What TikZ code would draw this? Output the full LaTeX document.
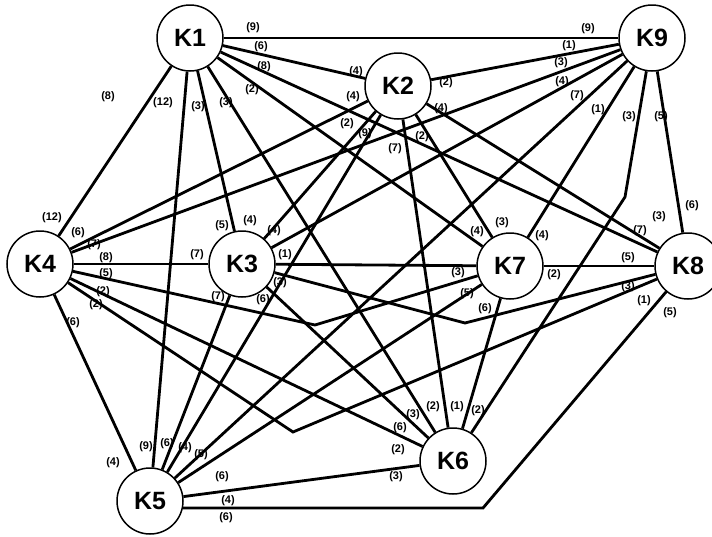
\documentclass[tikz,border=0pt]{standalone}
\usepackage{fontspec}
\setmainfont{Liberation Sans}
\begin{document}
\begin{tikzpicture}[x=1pt,y=-1pt,
  vert/.style={circle,draw,line width=1.5pt,minimum size=66pt,inner sep=0pt,fill=white,font=\bfseries\fontsize{25}{25}\selectfont},
  wt/.style={font=\bfseries\fontsize{11}{12}\selectfont,inner sep=0pt},
  edge/.style={line width=2.8pt,line join=miter}]
\useasboundingbox (0,0) rectangle (712,536);
% vertices
\node[vert] (K1) at (190,38) {K1};
\node[vert] (K9) at (652,38) {K9};
\node[vert] (K2) at (398,86) {K2};
\node[vert] (K4) at (40,264) {K4};
\node[vert] (K3) at (242,264) {K3};
\node[vert] (K7) at (510,266) {K7};
\node[vert] (K8) at (688,266) {K8};
\node[vert] (K5) at (150,501) {K5};
\node[vert] (K6) at (453,461) {K6};
% bend points
\coordinate (b1) at (625,197);
\coordinate (b2) at (315,325);
\coordinate (b3) at (293,432);
\coordinate (b4) at (465,323);
\coordinate (b5) at (483,508);
% edges
\draw[edge] (K1)--(K9);
\draw[edge] (K1)--(K2);
\draw[edge] (K1)--(K8);
\draw[edge] (K1)--(K7);
\draw[edge] (K1)--(K6);
\draw[edge] (K1)--(K3);
\draw[edge] (K1)--(K5);
\draw[edge] (K1)--(K4);
\draw[edge] (K2)--(K9);
\draw[edge] (K2)--(K4);
\draw[edge] (K2)--(K3);
\draw[edge] (K2)--(K5);
\draw[edge] (K2)--(K6);
\draw[edge] (K2)--(K7);
\draw[edge] (K2)--(K8);
\draw[edge] (K9)--(K4);
\draw[edge] (K9)--(K3);
\draw[edge] (K9)--(K5);
\draw[edge] (K9)--(K7);
\draw[edge] (K9)--(b1)--(K6);
\draw[edge] (K9)--(K8);
\draw[edge] (K4)--(K3);
\draw[edge] (K4)--(b2)--(K7);
\draw[edge] (K4)--(K6);
\draw[edge] (K4)--(b3)--(K8);
\draw[edge] (K4)--(K5);
\draw[edge] (K3)--(K7);
\draw[edge] (K3)--(b4)--(K8);
\draw[edge] (K3)--(K6);
\draw[edge] (K3)--(K5);
\draw[edge] (K7)--(K8);
\draw[edge] (K7)--(K5);
\draw[edge] (K7)--(K6);
\draw[edge] (K5)--(K6);
\draw[edge] (K5.-12)--(b5)--(K8);
% labels near K1
\node[wt] (a1) at (253,28) {(9)};
\node[wt] (a2) at (261,47) {(6)};
\node[wt] (a3) at (264,67) {(8)};
\node[wt] (a4) at (252,90) {(2)};
\node[wt] (a5) at (163,103) {(12)};
\node[wt] (a6) at (198,107) {(3)};
\node[wt] (a7) at (226,103) {(3)};
\node[wt] (a8) at (108,97) {(8)};
% labels near K2
\node[wt] (c1) at (356,72) {(4)};
\node[wt] (c2) at (353,97) {(4)};
\node[wt] (c3) at (347,124) {(2)};
\node[wt] (c4) at (365,134) {(9)};
\node[wt] (c5) at (395,149) {(7)};
\node[wt] (c6) at (422,137) {(2)};
\node[wt] (c7) at (446,83) {(2)};
\node[wt] (c8) at (441,109) {(4)};
% labels near K9
\node[wt] (d1) at (588,29) {(9)};
\node[wt] (d2) at (569,46) {(1)};
\node[wt] (d3) at (561,63) {(3)};
\node[wt] (d4) at (562,82) {(4)};
\node[wt] (d5) at (577,96) {(7)};
\node[wt] (d6) at (598,110) {(1)};
\node[wt] (d7) at (629,117) {(3)};
\node[wt] (d8) at (661,117) {(5)};
% labels near K4
\node[wt] (e1) at (52,218) {(12)};
\node[wt] (e2) at (78,233) {(6)};
\node[wt] (e3) at (94,245) {(7)};
\node[wt] (e4) at (106,258) {(8)};
\node[wt] (e5) at (106,274) {(5)};
\node[wt] (e6) at (103,292) {(2)};
\node[wt] (e7) at (96,305) {(2)};
\node[wt] (e8) at (73,323) {(6)};
% labels near K3
\node[wt] (f1) at (197,255) {(7)};
\node[wt] (f2) at (222,226) {(5)};
\node[wt] (f3) at (250,221) {(4)};
\node[wt] (f4) at (274,231) {(4)};
\node[wt] (f5) at (285,255) {(1)};
\node[wt] (f6) at (280,283) {(3)};
\node[wt] (f7) at (263,300) {(6)};
\node[wt] (f8) at (218,297) {(7)};
% labels near K7
\node[wt] (g1) at (502,223) {(3)};
\node[wt] (g2) at (477,232) {(4)};
\node[wt] (g3) at (542,236) {(4)};
\node[wt] (g4) at (458,273) {(3)};
\node[wt] (g5) at (554,275) {(2)};
\node[wt] (g6) at (467,294) {(5)};
\node[wt] (g7) at (485,309) {(6)};
% labels near K8
\node[wt] (h1) at (628,258) {(5)};
\node[wt] (h2) at (640,231) {(7)};
\node[wt] (h3) at (659,217) {(3)};
\node[wt] (h4) at (692,206) {(6)};
\node[wt] (h5) at (628,287) {(3)};
\node[wt] (h6) at (644,301) {(1)};
\node[wt] (h7) at (670,313) {(5)};
% labels near K5
\node[wt] (i1) at (113,463) {(4)};
\node[wt] (i2) at (146,447) {(9)};
\node[wt] (i3) at (167,444) {(6)};
\node[wt] (i4) at (185,448) {(4)};
\node[wt] (i5) at (201,455) {(5)};
\node[wt] (i6) at (222,477) {(6)};
\node[wt] (i7) at (228,501) {(4)};
\node[wt] (i8) at (226,518) {(6)};
% labels near K6
\node[wt] (j1) at (413,415) {(3)};
\node[wt] (j2) at (433,407) {(2)};
\node[wt] (j3) at (457,407) {(1)};
\node[wt] (j4) at (478,411) {(2)};
\node[wt] (j5) at (400,428) {(6)};
\node[wt] (j6) at (398,450) {(2)};
\node[wt] (j7) at (396,477) {(3)};
\end{tikzpicture}
\end{document}
